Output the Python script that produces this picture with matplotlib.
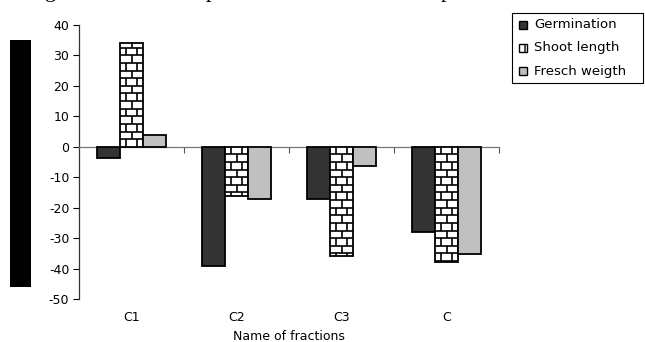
import numpy as np
import matplotlib
matplotlib.use("Agg")
import matplotlib.pyplot as plt
from matplotlib.patches import Rectangle
from matplotlib.collections import LineCollection
from matplotlib.transforms import blended_transform_factory

plt.rcParams["font.family"] = ["DejaVu Sans"]
plt.rcParams["axes.unicode_minus"] = False

fractions = ["C1", "C2", "C3", "C"]
germination = [-3.6, -39.3, -17, -28]
shoot_length = [34, -16.2, -35.8, -38]
fresch_weigth = [4, -17, -6.2, -35.1]
series_names = ["Germination", "Shoot length", "Fresch weigth"]
yticks = [-50, -40, -30, -20, -10, 0, 10, 20, 30, 40]

DARK = "#333333"; LIGHT = "#C0C0C0"
W, H = 645, 342

fig = plt.figure(figsize=(6.45, 3.42), dpi=100)
ax = fig.add_axes([79/W, 43/H, 420/W, 274/H])

x = np.arange(len(fractions))
w = 0.222
ax.bar(x - w, germination, w, color=DARK, edgecolor="black", lw=1.3, zorder=3)
shoot = ax.bar(x, shoot_length, w, color="white", edgecolor="black", lw=1.3, zorder=3)
ax.bar(x + w, fresch_weigth, w, color=LIGHT, edgecolor="black", lw=1.3, zorder=3)

# brick pattern inside the shoot-length bars
step = 2.5
segs = []
for b in shoot:
    x0, bw = b.get_x(), b.get_width()
    y0, y1 = sorted([b.get_y(), b.get_y() + b.get_height()])
    sign = 1 if b.get_height() >= 0 else -1
    k = 0
    while k * step < y1 - y0:
        lo, hi = k * step, min((k + 1) * step, y1 - y0)
        ya, yb = (y0 + lo, y0 + hi) if sign > 0 else (y1 - hi, y1 - lo)
        hl = ya if sign > 0 else yb
        if k > 0:
            segs.append([(x0, hl), (x0 + bw, hl)])
        for c in ([0.25, 0.75] if k % 2 == 0 else [0.5]):
            segs.append([(x0 + c * bw, ya), (x0 + c * bw, yb)])
        k += 1
ax.add_collection(LineCollection(segs, colors="black", lw=1.2, zorder=4))

ax.set_xlim(-0.5, 3.5)
ax.set_ylim(-50, 40)
ax.set_yticks(yticks)
ax.set_xticks([0.5, 1.5, 2.5, 3.5])
ax.set_xticklabels([])
ax.tick_params(axis="y", direction="out", length=4, width=0.8, labelsize=9, pad=3)
ax.tick_params(axis="x", direction="out", length=4, width=0.8, color="#555555")
for sp in ("top", "right"):
    ax.spines[sp].set_visible(False)
ax.spines["left"].set_color("#333333")
ax.spines["left"].set_linewidth(0.9)
ax.spines["bottom"].set_position(("data", 0))
ax.spines["bottom"].set_color("#777777")
ax.spines["bottom"].set_linewidth(0.9)

tr = blended_transform_factory(ax.transData, ax.transAxes)
for i, name in enumerate(fractions):
    ax.text(i, -0.066, name, transform=tr, ha="center", va="center", fontsize=9)
ax.text(0.5, -0.138, "Name of fractions", transform=ax.transAxes,
        ha="center", va="center", fontsize=9)

# legend box, drawn in pixel positions
fig.patches.append(Rectangle((512/W, 1 - 83/H), 131/W, 70/H, transform=fig.transFigure,
                             fc="white", ec="black", lw=0.8))
icon_styles = [dict(fc=DARK), dict(fc="white", hatch="+"), dict(fc=LIGHT)]
for (name, st, yc) in zip(series_names, icon_styles, [25, 48, 71]):
    fig.patches.append(Rectangle((519/W, 1 - (yc + 4)/H), 8/W, 8/H,
                                 transform=fig.transFigure, ec="black", lw=1.0, **st))
    fig.text(534/W, 1 - yc/H, name, fontsize=9.5, ha="left", va="center")

# dark label block at the left edge
fig.patches.append(Rectangle((10/W, 55/H), 21/W, 247/H, transform=fig.transFigure,
                             fc="black", ec="none"))

# caption line running off the top edge
for gx, ch in [(45, "g"), (206, "p"), (441, "p")]:
    fig.text(gx/W, 1 + 3/H, ch, family="Liberation Serif", fontsize=16,
             ha="left", va="baseline")

fig.savefig("out.png", dpi=100, facecolor="white")
